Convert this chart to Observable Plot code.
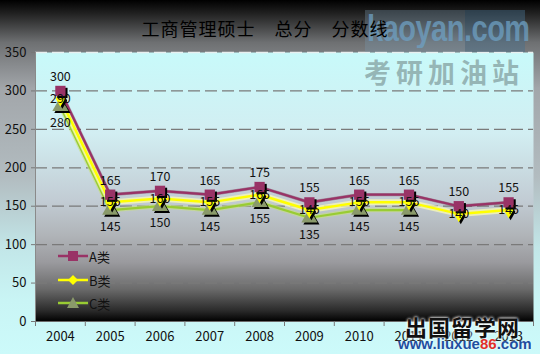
<!DOCTYPE html>
<html>
<head>
<meta charset="utf-8">
<script src="https://cdn.jsdelivr.net/npm/d3@7"></script>
<script src="https://cdn.jsdelivr.net/npm/@observablehq/plot@0.6"></script>
<style>
  html, body { margin: 0; padding: 0; }
  #wrap {
    position: relative; width: 540px; height: 354px; overflow: hidden;
    background: linear-gradient(to bottom, #000 0%, #232323 4%, #6e7072 12%, #a2a6aa 25%, #b2bcc0 50%, #c2e6e8 70%, #c9f5f5 85%, #ccfafa 100%);
    font-family: "Noto Sans CJK SC", "DejaVu Sans", sans-serif;
  }
  #title {
    position: absolute; left: 0; width: 530px; top: 16px; text-align: center;
    font-size: 18px; letter-spacing: 1px; color: #000; z-index: 3; line-height: 24px;
  }
  .wm { position: absolute; z-index: 2; pointer-events: none; white-space: nowrap; }
  #legend { position: absolute; left: 58px; top: 246px; z-index: 4; font-size: 13px; color: #111; width: 80px; }
  #legend .row { position: absolute; left: 0; height: 20px; width: 80px; display: flex; align-items: center; white-space: nowrap; }
  #legend svg { display: block; flex: none; }
  svg.plot { position: absolute; left: 0; top: 0; z-index: 1; }
</style>
</head>
<body>
<div id="wrap">
  <div id="title">工商管理硕士　总分　分数线</div>
  <div class="wm" style="left:365px;top:10px;width:100px;height:42px;background:rgba(120,150,170,0.35)"></div>
  <div class="wm" style="left:465px;top:10px;width:60px;height:42px;background:rgba(70,110,140,0.45)"></div>
  <div class="wm" style="left:367px;top:8px;font:bold 29px 'Liberation Sans',sans-serif;color:rgba(110,160,195,0.75);letter-spacing:-0.5px;transform:scaleY(1.25);transform-origin:0 0">kaoyan.com</div>
  <div class="wm" style="left:364px;top:52px;font:bold 27px 'Noto Sans CJK SC',sans-serif;color:rgba(140,170,170,0.85);letter-spacing:5px">考研加油站</div>
  <div class="wm" style="left:405px;top:310px;font:bold 22px 'Noto Sans CJK SC',sans-serif;color:#111;text-shadow:0 0 3px #fff,0 0 3px #fff;letter-spacing:1px">出国留学网</div>
  <div class="wm" style="left:398px;top:335px;font:bold 15px 'Liberation Sans',sans-serif;color:#1f4fa0;text-shadow:0 0 2px #fff">www.liuxue<span style="color:#e0302a">86</span>.com</div>
  <div id="legend"></div>
</div>
<script>
const years = ["2004","2005","2006","2007","2008","2009","2010","2011","2012","2013"];
const seriesNames = ["A类","B类","C类"];
const seriesA = [300,165,170,165,175,155,165,165,150,155];
const seriesB = [290,155,160,155,165,145,155,155,140,145];
const seriesC = [280,145,150,145,155,135,145,145,null,null];
const yTicks = [0,50,100,150,200,250,300,350];

const colors = {A:"#993366", B:"#ffff00", C:"#99cc33"};
const markerFill = {A:"#993366", B:"#ffff00", C:"#8a9a6a"};

function rows(vals) {
  return years.map((y, i) => ({i: i + 0.5, year: y, v: vals[i]})).filter(d => d.v != null);
}
const A = rows(seriesA), B = rows(seriesB), C = rows(seriesC);

const defs = () => {
  const ns = "http://www.w3.org/2000/svg";
  const d = document.createElementNS(ns, "defs");
  d.innerHTML = `<linearGradient id="pa" x1="0" y1="0" x2="0" y2="1">
    <stop offset="0%" stop-color="#c8fafa"/>
    <stop offset="30%" stop-color="#d2eef2"/>
    <stop offset="55%" stop-color="#c2ccd4"/>
    <stop offset="68%" stop-color="#b0b4b8"/>
    <stop offset="78%" stop-color="#9a9a9e"/>
    <stop offset="88%" stop-color="#6a6a6a"/>
    <stop offset="96%" stop-color="#2a2a2a"/>
    <stop offset="100%" stop-color="#000"/>
  </linearGradient>`;
  return d;
};

const bounds = d3.range(years.length + 1);
const centers = years.map((y, i) => i + 0.5);

const chart = Plot.plot({
  width: 540, height: 354,
  marginLeft: 35, marginRight: 7, marginTop: 52, marginBottom: 33,
  x: {domain: [0, years.length], axis: null},
  y: {domain: [0, 350], axis: null},
  style: {background: "transparent", fontFamily: "'Noto Sans CJK SC', 'DejaVu Sans', sans-serif", fontSize: "13px", color: "#111"},
  marks: [
    defs,
    Plot.frame({fill: "url(#pa)", stroke: null}),
    Plot.gridY(yTicks.filter(d => d > 0 && d < 350), {stroke: "#7a7a7a", strokeOpacity: 1, strokeWidth: 1.3, strokeDasharray: "12,5"}),
    Plot.gridY([350], {stroke: "#e8f0f0", strokeOpacity: 1, strokeWidth: 1.5, strokeDasharray: "12,5"}),
    Plot.ruleX([0], {stroke: "#8a8a8a", strokeWidth: 1}),
    Plot.ruleY([0], {stroke: "#6a6a6a", strokeWidth: 1}),
    Plot.axisY(yTicks, {tickSize: 4, tickPadding: 5, stroke: "#777", fill: "#111", fontSize: 13, label: null}),
    Plot.axisX(bounds, {tickSize: 5, stroke: "#777", tickFormat: () => "", label: null}),
    Plot.axisX(centers, {tickSize: 0, tickPadding: 10, fill: "#111", fontSize: 13, tickFormat: i => years[Math.floor(i)], label: null}),
    // lines
    Plot.line(C, {x: "i", y: "v", stroke: "#c8e080", strokeWidth: 4.5, strokeOpacity: 0.6}),
    Plot.line(C, {x: "i", y: "v", stroke: colors.C, strokeWidth: 2.2}),
    Plot.line(B, {x: "i", y: "v", stroke: "#ffffb0", strokeWidth: 6, strokeOpacity: 0.7}),
    Plot.line(B, {x: "i", y: "v", stroke: colors.B, strokeWidth: 2.5}),
    Plot.line(A, {x: "i", y: "v", stroke: "#6a2040", strokeWidth: 3.2, strokeOpacity: 0.4}),
    Plot.line(A, {x: "i", y: "v", stroke: colors.A, strokeWidth: 2.2}),
    // markers with shadow
    Plot.dot(C, {x: "i", y: "v", symbol: "triangle", r: 6, fill: "#000", dx: 2, dy: 2}),
    Plot.dot(C, {x: "i", y: "v", symbol: "triangle", r: 6, fill: markerFill.C}),
    Plot.dot(B, {x: "i", y: "v", symbol: "diamond", r: 5, fill: "#000", dx: 2, dy: 2}),
    Plot.dot(B, {x: "i", y: "v", symbol: "diamond", r: 5, fill: markerFill.B}),
    Plot.dot(A, {x: "i", y: "v", symbol: "square", r: 5.8, fill: "#000", dx: 2, dy: 2}),
    Plot.dot(A, {x: "i", y: "v", symbol: "square", r: 5.8, fill: markerFill.A}),
    // data labels
    Plot.text(A, {x: "i", y: "v", text: d => String(d.v), dy: -14, fill: "#111", fontSize: 12.5}),
    Plot.text(B, {x: "i", y: "v", text: d => String(d.v), dy: 0, fill: "#111", fontSize: 12.5}),
    Plot.text(C, {x: "i", y: "v", text: d => String(d.v), dy: 17, fill: "#111", fontSize: 12.5})
  ]
});
chart.classList.add("plot");
document.getElementById("wrap").appendChild(chart);

// legend
const legend = document.getElementById("legend");
const keys = ["A", "B", "C"];
const symPaths = {
  A: '<rect x="10" y="5" width="10" height="10"/>',
  B: '<polygon points="15,5 20,10 15,15 10,10"/>',
  C: '<polygon points="15,4 21,15 9,15"/>'
};
keys.forEach((k, j) => {
  const row = document.createElement("div");
  row.className = "row";
  row.style.top = (j === 0 ? 0 : j === 1 ? 24 : 47) + "px";
  row.innerHTML = `<svg width="30" height="20"><line x1="0" x2="30" y1="10" y2="10" stroke="${colors[k]}" stroke-width="2.5"/><g fill="${markerFill[k]}">${symPaths[k]}</g></svg><span style="margin-left:1px">${seriesNames[j]}</span>`;
  legend.appendChild(row);
});
</script>
</body>
</html>
